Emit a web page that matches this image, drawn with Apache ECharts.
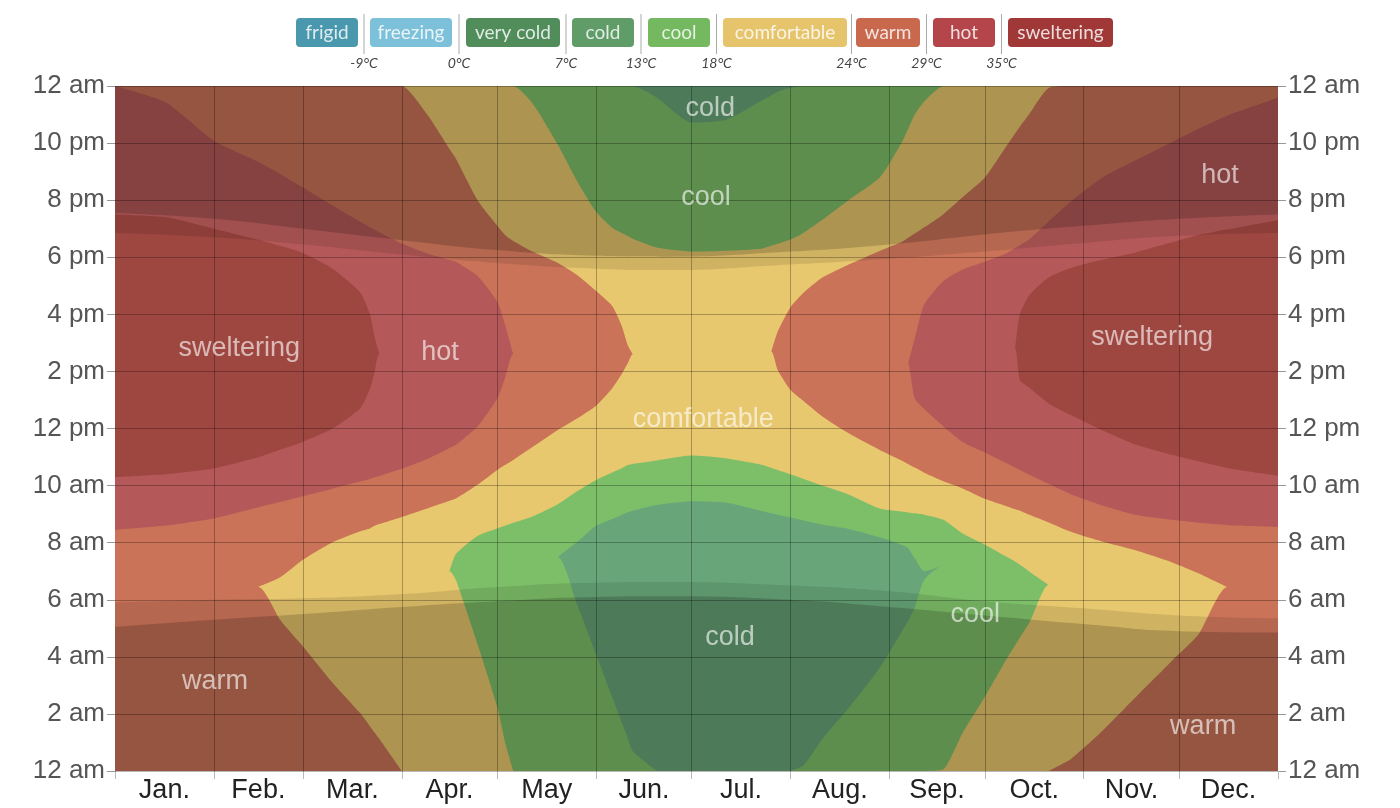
<!DOCTYPE html>
<html>
<head>
<meta charset="utf-8">
<title>Hourly temperature bands</title>
<script src="https://cdn.jsdelivr.net/npm/echarts@6/dist/echarts.min.js"></script>
<style>
  html, body { margin: 0; padding: 0; background: #fff; }
  #chart { width: 1400px; height: 808px; }
</style>
</head>
<body>
<div id="chart"></div>
<script>
// sampled days of the year (0 = Jan 1)
const days = [0,16,31,45,52,59,68,77,80,81.5,83,90,98,105,107,114,120,122.5,125,131,139,145,151,156,159,161,162.5,170,181,192,203,206,208,212,216,222,230,240,247,249,251,254,260,266,273,280,282.5,284,287,293,300,310,320,332,340,349,357,365];

// upper edge (hour of day) of each band, from the bottom band upward
const edgeWarmLow = [6.45,6.45,6.45,6.45,5.27,4.36,3.13,2.02,1.57,1.34,1.12,0,0,0,0,0,0,0,0,0,0,0,0,0,0,0,0,0,0,0,0,0,0,0,0,0,0,0,0,0,0,0,0,0,0,0,0,0,0,0,0.42,1.42,2.55,3.89,4.78,6.45,6.45,6.45];
const edgeComfLow = [6.45,6.45,6.45,6.45,6.7,6.7,6.7,6.7,6.7,6.7,6.7,6.7,6.7,7.0,6.69,4.37,2.23,0.97,0,0,0,0,0,0,0,0,0,0,0,0,0,0,0,0,0,0,0,0,0,0,0,0,0.06,1.33,2.6,3.96,4.41,4.68,5.2,6.52,6.5,6.5,6.5,6.5,6.5,6.45,6.45,6.45];
const edgeCoolLow = [6.45,6.45,6.45,6.45,6.7,6.7,6.7,6.7,6.7,6.7,6.7,6.7,6.7,7.0,7.2,7.2,7.2,7.2,7.2,7.2,7.5,5.85,4.08,2.6,1.72,1.12,0.69,0,0,0,0,0,0,0,0.18,1.12,2.17,3.62,4.9,5.27,5.74,6.7,7.2,7.2,7.2,7.2,7.2,7.2,6.98,6.52,6.5,6.5,6.5,6.5,6.5,6.45,6.45,6.45];
const edgeCold = [6.45,6.45,6.45,6.45,6.7,6.7,6.7,6.7,6.7,6.7,6.7,6.7,6.7,7.0,7.2,7.2,7.2,7.2,7.2,7.2,7.5,8.02,8.59,8.83,8.98,9.07,9.12,9.32,9.45,9.4,9.11,9.03,8.98,8.88,8.78,8.64,8.49,8.19,7.92,7.8,7.45,7.0,7.2,7.2,7.2,7.2,7.2,7.2,6.98,6.52,6.5,6.5,6.5,6.5,6.5,6.45,6.45,6.45];
const edgeCoolMorning = [6.45,6.45,6.45,6.45,6.7,6.7,6.7,6.7,6.7,6.7,6.7,6.7,6.7,7.0,7.6,8.25,8.5,8.6,8.7,8.92,9.35,9.8,10.2,10.46,10.61,10.72,10.76,10.88,11.05,10.95,10.73,10.62,10.55,10.4,10.24,10.0,9.7,9.2,9.09,9.06,9.03,8.98,8.8,8.32,7.93,7.5,7.34,7.23,6.98,6.52,6.5,6.5,6.5,6.5,6.5,6.45,6.45,6.45];
const edgeComfDay = [6.45,6.45,6.45,6.45,6.8,7.4,8.0,8.4,8.5,8.59,8.65,8.9,9.2,9.47,9.55,10.05,10.55,10.73,10.9,11.35,11.95,12.35,12.8,13.4,13.9,14.3,14.6,14.6,14.6,14.6,14.7,14.7,14.05,13.35,12.97,12.42,11.85,11.25,10.87,10.75,10.63,10.45,10.15,9.9,9.54,9.27,9.17,9.12,8.98,8.71,8.38,8.03,7.74,7.3,6.93,6.45,6.45,6.45];
const edgeWarmDay = [8.45,8.6,8.85,9.24,9.43,9.63,9.88,10.14,10.23,10.29,10.34,10.59,10.93,11.32,11.43,12.1,13.06,13.8,14.6,14.6,14.6,14.6,14.6,14.6,14.6,14.6,14.6,14.6,14.6,14.6,14.7,14.7,14.5,14.5,14.5,14.5,14.5,14.5,14.5,14.3,13.05,12.68,12.07,11.53,11.16,10.77,10.63,10.55,10.38,10.06,9.7,9.3,8.98,8.8,8.7,8.62,8.58,8.55];
const edgeHotDay = [10.3,10.4,10.6,10.99,11.26,11.54,11.98,12.71,13.38,14.0,14.6,14.6,14.6,14.6,14.6,14.6,14.6,14.6,14.6,14.6,14.6,14.6,14.6,14.6,14.6,14.6,14.6,14.6,14.6,14.6,14.7,14.7,14.5,14.5,14.5,14.5,14.5,14.5,14.5,14.3,14.8,14.8,14.8,14.8,14.8,14.8,14.8,13.7,13.43,12.88,12.47,11.93,11.45,11.07,10.85,10.62,10.48,10.35];
const edgeSweltering = [19.5,19.4,19.0,18.61,18.39,18.15,17.62,16.76,16.0,15.2,14.6,14.6,14.6,14.6,14.6,14.6,14.6,14.6,14.6,14.6,14.6,14.6,14.6,14.6,14.6,14.6,14.6,14.6,14.6,14.6,14.7,14.7,14.5,14.5,14.5,14.5,14.5,14.5,14.5,14.3,14.8,14.8,14.8,14.8,14.8,14.8,14.8,16.0,16.68,17.29,17.62,17.92,18.16,18.53,18.78,18.97,19.14,19.3];
const edgeHotEve = [24,23.42,22.08,21.34,20.91,20.44,19.83,19.24,19.05,18.96,18.87,18.48,18.13,17.9,17.84,17.32,16.44,15.6,14.6,14.6,14.6,14.6,14.6,14.6,14.6,14.6,14.6,14.6,14.6,14.6,14.7,14.7,14.5,14.5,14.5,14.5,14.5,14.5,14.5,14.3,15.15,16.35,17.17,17.57,17.84,18.15,18.32,18.42,18.63,19.25,19.95,20.8,21.38,22.05,22.5,22.96,23.28,23.6];
const edgeWarmEve = [24,24,24,24,24,24,24,24,24,24,24,24,23.0,21.79,21.45,19.96,19.1,18.77,18.57,18.2,17.8,17.38,16.82,16.3,15.6,14.9,14.6,14.6,14.6,14.6,14.7,14.7,15.4,16.25,16.75,17.29,17.73,18.22,18.54,18.69,18.83,19.05,19.51,20.1,20.79,21.93,22.34,22.58,23.03,23.93,24,24,24,24,24,24,24,24];
const edgeComfEve = [24,24,24,24,24,24,24,24,24,24,24,24,24,24,24,24,24,24,24,23.4,21.94,20.67,19.59,19.03,18.85,18.74,18.65,18.34,18.2,18.23,18.3,18.4,18.47,18.62,18.85,19.31,19.98,20.79,22.04,22.51,23.0,23.46,24,24,24,24,24,24,24,24,24,24,24,24,24,24,24,24];
const edgeCoolNight = [24,24,24,24,24,24,24,24,24,24,24,24,24,24,24,24,24,24,24,24,24,24,24,24,24,24,24,23.6,22.72,22.82,23.49,23.68,23.8,23.94,24,24,24,24,24,24,24,24,24,24,24,24,24,24,24,24,24,24,24,24,24,24,24,24];

const bandOrder = ['warm','comfortable','cool','cold','cool','comfortable','warm','hot','sweltering','hot','warm','comfortable','cool','cold'];

// daylight / twilight hours
const shadeDays = [0,31,59,90,120,151,172,212,243,273,304,334,365];
const darkMorning = [5.05,5.3,5.5,5.75,5.95,6.1,6.12,6.0,5.75,5.45,5.15,4.9,4.85];
const sunrise = [5.9,6.0,6.05,6.2,6.45,6.6,6.62,6.5,6.3,5.95,5.7,5.45,5.35];
const sunset = [18.85,18.7,18.45,18.1,17.8,17.6,17.55,17.75,17.95,18.2,18.5,18.75,18.85];
const darkEvening = [19.55,19.35,19.0,18.6,18.25,18.05,18.02,18.2,18.45,18.8,19.1,19.35,19.5];

// text inside the bands: [text, day, hour]
const bandLabels = [
  ['sweltering', 39, 14.8], ['hot', 102, 14.65], ['comfortable', 184.6, 12.3],
  ['cool', 185.5, 20.1], ['cold', 186.8, 23.2], ['cold', 193, 4.66],
  ['cool', 270, 5.47], ['sweltering', 325.5, 15.17], ['hot', 346.8, 20.88],
  ['warm', 31.4, 3.15], ['warm', 341.5, 1.54]
];

const monthNames = ['Jan.','Feb.','Mar.','Apr.','May','Jun.','Jul.','Aug.','Sep.','Oct.','Nov.','Dec.'];
const monthStarts = [0,31,59,90,120,151,181,212,243,273,304,334,365];
const hourLabels = ['12 am','2 am','4 am','6 am','8 am','10 am','12 pm','2 pm','4 pm','6 pm','8 pm','10 pm','12 am'];

const legendNames = ['frigid','freezing','very cold','cold','cool','comfortable','warm','hot','sweltering'];
const thresholds = ['-9°C','0°C','7°C','13°C','18°C','24°C','29°C','35°C'];

// ---- styling ----
const bandColor = {
  cold: '#68a679',
  cool: '#7dbf69',
  comfortable: '#e8c86e',
  warm: '#ca7358',
  hot: '#b55859',
  sweltering: '#9e4640'
};
const legendColors = ['#4a98ad','#7cc1d9','#518c5b','#5f9c68','#74b85f','#e6c46c','#c8684d','#b4464b','#a03838'];
const legendBoxX = [296,370,466,572,648,723,856,933,1008];
const legendBoxW = [62,82,94,62,62,124,64,62,105];
const axisFont = '"Liberation Sans", Arial, sans-serif';
const legendFont = 'Lato, "Open Sans", sans-serif';

const chart = echarts.init(document.getElementById('chart'));

const tops = [edgeWarmLow, edgeComfLow, edgeCoolLow, edgeCold, edgeCoolMorning, edgeComfDay,
  edgeWarmDay, edgeHotDay, edgeSweltering, edgeHotEve, edgeWarmEve, edgeComfEve, edgeCoolNight,
  days.map(() => 24)];

// each band is filled from 12 am up to its upper edge; top band drawn first,
// so every lower band paints over it. A band is skipped where it has no width.
const series = [];
for (let i = bandOrder.length - 1; i >= 0; i--) {
  const upper = tops[i];
  const width = days.map((d, k) => upper[k] - (i === 0 ? 0 : tops[i - 1][k]));
  const has = k => k >= 0 && k < days.length && width[k] > 1e-6;
  series.push({
    type: 'line',
    name: bandOrder[i],
    data: days.map((d, k) => [d, (has(k) || has(k - 1) || has(k + 1)) ? upper[k] : null]),
    symbol: 'none',
    smooth: 0.2,
    connectNulls: false,
    lineStyle: { width: 0, opacity: 0 },
    areaStyle: { color: bandColor[bandOrder[i]], opacity: 1, origin: 'start' },
    silent: true,
    z: 2
  });
}

// night and twilight overlays
const shadeLayers = [
  [sunrise, 'start', 0.1],
  [darkMorning, 'start', 0.167],
  [sunset, 'end', 0.1],
  [darkEvening, 'end', 0.167]
];
shadeLayers.forEach((s) => {
  series.push({
    type: 'line',
    data: shadeDays.map((d, k) => [d, s[0][k]]),
    symbol: 'none',
    smooth: true,
    lineStyle: { width: 0, opacity: 0 },
    areaStyle: { color: '#000', opacity: s[2], origin: s[1] },
    silent: true,
    z: 3
  });
});

series.push({
  type: 'scatter',
  z: 12,
  silent: true,
  symbol: 'circle',
  symbolSize: 1,
  itemStyle: { color: 'rgba(0,0,0,0)' },
  data: bandLabels.map(l => ({ name: l[0], value: [l[1], l[2]] })),
  label: {
    show: true,
    position: 'inside',
    formatter: '{b}',
    color: 'rgba(255,255,255,0.78)',
    fontSize: 27,
    fontFamily: axisFont
  },
  markLine: {
    silent: true,
    symbol: ['none', 'none'],
    label: { show: false },
    lineStyle: { color: 'rgba(0,0,0,0.28)', type: 'solid', width: 1 },
    data: monthStarts.slice(1, 12).map(d => ({ xAxis: d }))
  }
});

const monthMids = monthNames.map((m, i) => (monthStarts[i] + monthStarts[i + 1]) / 2);

// legend drawn as graphic boxes
const graphic = [];
legendNames.forEach((name, i) => {
  graphic.push({
    type: 'rect',
    shape: { x: legendBoxX[i], y: 18, width: legendBoxW[i], height: 29, r: 4 },
    style: { fill: legendColors[i] }
  });
  graphic.push({
    type: 'text',
    x: legendBoxX[i] + legendBoxW[i] / 2,
    y: 33,
    style: {
      text: name,
      fill: 'rgba(255,255,255,0.82)',
      font: '19px ' + legendFont,
      align: 'center', verticalAlign: 'middle',
      textAlign: 'center', textVerticalAlign: 'middle'
    }
  });
});
thresholds.forEach((t, i) => {
  const sx = (legendBoxX[i] + legendBoxW[i] + legendBoxX[i + 1]) / 2;
  graphic.push({
    type: 'line',
    shape: { x1: sx, y1: 14, x2: sx, y2: 54 },
    style: { stroke: '#aaa', lineWidth: 1 }
  });
  graphic.push({
    type: 'text',
    x: sx,
    y: 63,
    style: {
      text: t,
      fill: '#444',
      font: 'italic 14px ' + legendFont,
      align: 'center', verticalAlign: 'middle',
      textAlign: 'center', textVerticalAlign: 'middle'
    }
  });
});

const yAxisBase = {
  type: 'value',
  min: 0,
  max: 24,
  interval: 2,
  axisLine: { show: false },
  axisTick: { show: true, length: 8, lineStyle: { color: '#999' } },
  axisLabel: {
    formatter: v => hourLabels[Math.round(v / 2)],
    fontSize: 26,
    color: '#555',
    margin: 10,
    fontFamily: axisFont
  }
};

const option = {
  animation: false,
  backgroundColor: '#fff',
  grid: { left: 115, right: 122, top: 86, bottom: 37, containLabel: false, outerBoundsMode: 'none' },
  xAxis: {
    type: 'value',
    min: 0,
    max: 365,
    axisLine: { show: false },
    splitLine: { show: false },
    axisTick: { show: true, customValues: monthStarts, length: 8, lineStyle: { color: '#bbb' } },
    axisLabel: {
      customValues: monthMids,
      formatter: v => {
        const i = monthMids.findIndex(m => Math.abs(m - v) < 0.01);
        return i >= 0 ? monthNames[i] : '';
      },
      fontSize: 27,
      color: '#222',
      margin: 6,
      fontFamily: axisFont
    }
  },
  yAxis: [
    Object.assign({}, yAxisBase, {
      position: 'left',
      z: 10,
      splitLine: { show: true, lineStyle: { color: 'rgba(0,0,0,0.28)', width: 1 } }
    }),
    Object.assign({}, yAxisBase, {
      position: 'right',
      splitLine: { show: false }
    })
  ],
  graphic: graphic,
  series: series
};

chart.setOption(option);
</script>
</body>
</html>
